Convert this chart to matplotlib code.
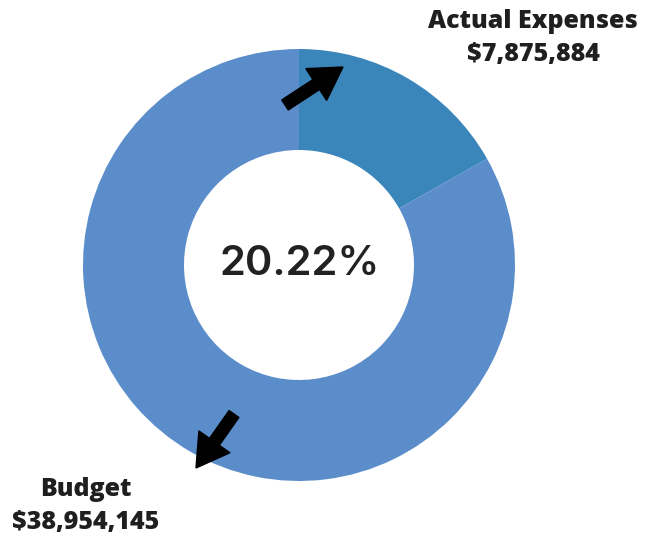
import matplotlib
matplotlib.use("Agg")
from matplotlib import pyplot as plt

# Data for the donut
labels = ['Actual Expenses', 'Budget']
amounts = [7875884, 38954145]
colors = ['#3a86bb', '#5b8dcb']

pct = amounts[0] / amounts[1] * 100

fig = plt.figure(figsize=(6.54, 5.36), dpi=100)
ax = fig.add_axes([0, 0, 1, 1])

# Donut ring (pixel-like coords, y up)
ax.pie(amounts, colors=colors, startangle=90, counterclock=False,
       center=(299, 271), radius=216,
       wedgeprops=dict(width=101, linewidth=0))

ax.set_xlim(0, 654)
ax.set_ylim(0, 536)
ax.set_aspect('equal')
ax.axis('off')

# Centre value
ax.text(300, 272, f'{pct:.2f}%', ha='center', va='center',
        fontsize=30, family='Inter', weight='semibold', color='#222222')

# Labels
txt = dict(ha='center', va='center', fontsize=18, family='Open Sans',
           weight='heavy', color='#1f1f1f')
ax.text(533, 515, labels[0], **txt)
ax.text(533, 481, f'${amounts[0]:,}', **txt)
ax.text(86, 46, labels[1], **txt)
ax.text(86, 14, f'${amounts[1]:,}', **txt)

# Arrows pointing to each label
ax.arrow(285, 431, 58, 38, width=12, head_width=38, head_length=32,
         length_includes_head=True, color='black')
ax.arrow(234, 122, -38, -54, width=12, head_width=38, head_length=32,
         length_includes_head=True, color='black')

plt.savefig('out.png', dpi=100)
